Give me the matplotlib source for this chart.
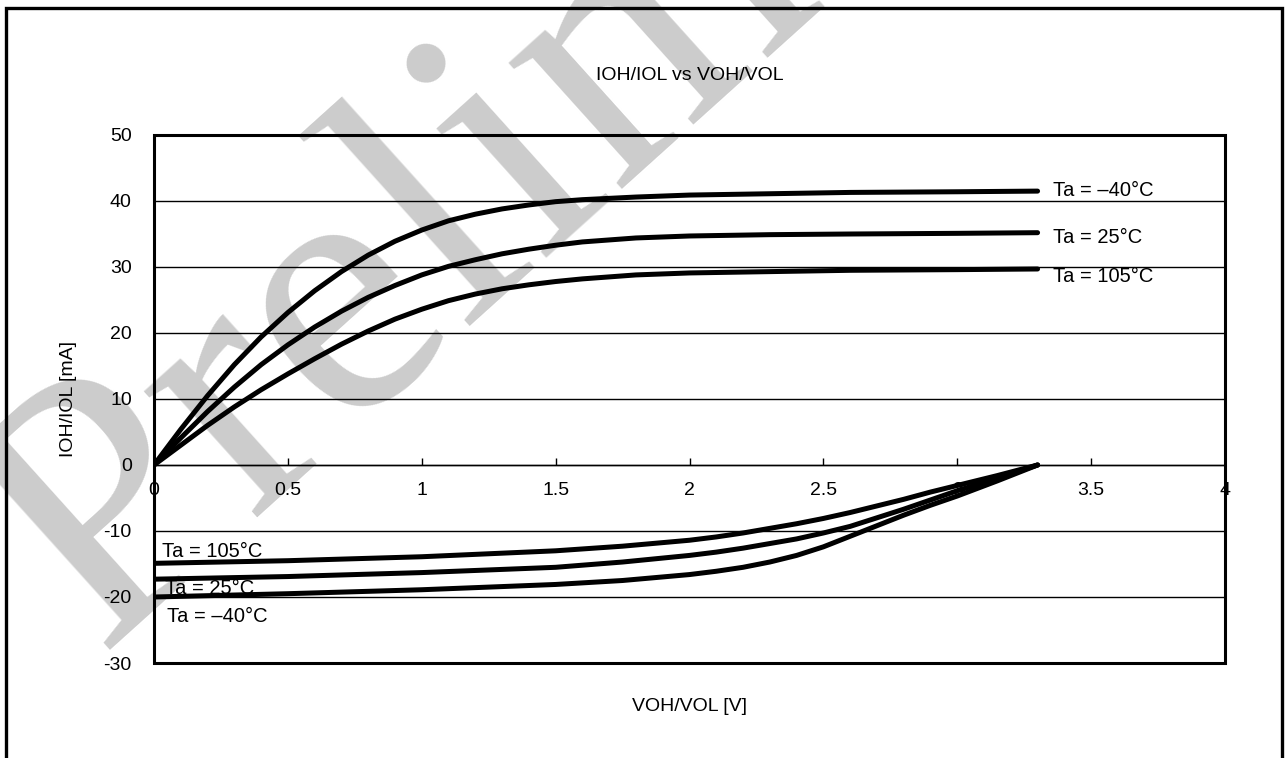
import matplotlib
matplotlib.use("Agg")
import matplotlib.pyplot as plt
from matplotlib.patches import Rectangle

plt.rcParams["font.family"] = ["Liberation Sans", "DejaVu Sans"]
plt.rcParams["axes.unicode_minus"] = False

# ---- data ------------------------------------------------------------------
# output high current (IOH) vs VOH
voh = [0, 0.1, 0.2, 0.3, 0.4, 0.5, 0.6, 0.7, 0.8, 0.9, 1.0, 1.1, 1.2, 1.3,
       1.4, 1.5, 1.6, 1.8, 2.0, 2.3, 2.6, 3.0, 3.3]
ioh_m40 = [0, 5.4, 10.5, 15.2, 19.4, 23.1, 26.4, 29.3, 31.8, 33.9, 35.6, 37.0,
           38.0, 38.8, 39.4, 39.9, 40.2, 40.6, 40.9, 41.1, 41.3, 41.4, 41.5]
ioh_25 = [0, 4.1, 8.1, 11.8, 15.2, 18.2, 20.9, 23.3, 25.4, 27.2, 28.8, 30.1,
          31.1, 32.0, 32.7, 33.3, 33.8, 34.4, 34.7, 34.9, 35.0, 35.1, 35.2]
ioh_105 = [0, 3.0, 6.0, 8.8, 11.4, 13.8, 16.1, 18.3, 20.3, 22.1, 23.6, 24.9,
           25.9, 26.7, 27.3, 27.8, 28.2, 28.8, 29.1, 29.3, 29.5, 29.6, 29.7]

# output low current (IOL) vs VOL
vol = [0, 0.5, 1.0, 1.5, 1.75, 2.0, 2.1, 2.2, 2.3, 2.4, 2.5, 2.6, 2.7, 2.8,
       2.9, 3.0, 3.15, 3.3]
iol_m40 = [-20.0, -19.5, -18.9, -18.1, -17.5, -16.6, -16.1, -15.5, -14.7,
           -13.7, -12.4, -10.8, -9.2, -7.6, -6.1, -4.7, -2.4, 0]
iol_25 = [-17.3, -16.9, -16.3, -15.5, -14.7, -13.7, -13.2, -12.6, -11.9,
          -11.2, -10.3, -9.3, -8.0, -6.7, -5.3, -3.9, -2.0, 0]
iol_105 = [-14.9, -14.5, -13.9, -13.0, -12.3, -11.4, -10.9, -10.3, -9.6,
           -8.9, -8.1, -7.2, -6.2, -5.2, -4.1, -3.1, -1.6, 0]

x_ticks = [0, 0.5, 1, 1.5, 2, 2.5, 3, 3.5, 4]
x_tick_labels = ["0", "0.5", "1", "1.5", "2", "2.5", "3", "3.5", "4"]
y_ticks = [-30, -20, -10, 0, 10, 20, 30, 40, 50]

high_labels = ["Ta = \u201340\u00b0C", "Ta = 25\u00b0C", "Ta = 105\u00b0C"]
high_label_pos = [(3.357, 41.6), (3.357, 34.4), (3.357, 28.6)]
low_labels = ["Ta = 105\u00b0C", "Ta = 25\u00b0C", "Ta = \u201340\u00b0C"]
low_label_pos = [(0.03, -13.1), (0.04, -18.7), (0.047, -22.9)]

# ---- figure ------------------------------------------------------------------
fig = plt.figure(figsize=(12.88, 7.58), dpi=100)
ax = fig.add_axes([154 / 1288, 1 - 663 / 758, 1071 / 1288, 528 / 758])
ax.set_facecolor("none")

# watermark behind everything
fig.text(98 / 1288, 1 - 652 / 758, "Preliminary", family="Liberation Serif",
         fontsize=265, color="#cccccc", rotation=42, rotation_mode="anchor",
         ha="left", va="baseline", zorder=-5)

# outer frame (runs off the bottom)
fig.add_artist(Rectangle((5.5 / 1288, -0.05), 1276 / 1288, 1.05 - 8 / 758,
                         transform=fig.transFigure, fill=False,
                         edgecolor="black", linewidth=2.4))

LW = 3.6
for v, i in [(voh, ioh_m40), (voh, ioh_25), (voh, ioh_105),
             (vol, iol_m40), (vol, iol_25), (vol, iol_105)]:
    ax.plot(v, i, color="black", linewidth=LW, solid_capstyle="round",
            solid_joinstyle="round", zorder=3)

for txt, (x, y) in zip(high_labels, high_label_pos):
    ax.text(x, y, txt, fontsize=14.5, ha="left", va="center", zorder=4)
for txt, (x, y) in zip(low_labels, low_label_pos):
    ax.text(x, y, txt, fontsize=14.5, ha="left", va="center", zorder=4)

ax.set_xlim(0, 4)
ax.set_ylim(-30, 50)
ax.set_yticks(y_ticks)
ax.set_xticks(x_ticks)
ax.set_xticklabels(x_tick_labels)
ax.yaxis.grid(True, color="black", linewidth=1.0)
ax.set_axisbelow(True)

# x axis sits on the zero line, plot box is a separate frame
for side in ["top", "right", "left"]:
    ax.spines[side].set_visible(False)
ax.spines["bottom"].set_position(("data", 0))
ax.spines["bottom"].set_linewidth(1.0)
ax.add_patch(Rectangle((0, 0), 1, 1, transform=ax.transAxes, fill=False,
                       edgecolor="black", linewidth=2.2, clip_on=False,
                       zorder=5))

ax.tick_params(axis="x", direction="in", length=5, width=1, pad=12,
               labelsize=14)
ax.tick_params(axis="y", length=0, pad=16, labelsize=14)

ax.set_xlabel("VOH/VOL [V]", fontsize=14)
ax.set_ylabel("IOH/IOL [mA]", fontsize=14)
ax.xaxis.set_label_coords(0.5, -0.066)
ax.yaxis.set_label_coords(-0.072, 0.5)

fig.text(0.5357, 1 - 75 / 758, "IOH/IOL vs VOH/VOL", fontsize=14,
         ha="center", va="center")

fig.savefig("out.png", dpi=100)
